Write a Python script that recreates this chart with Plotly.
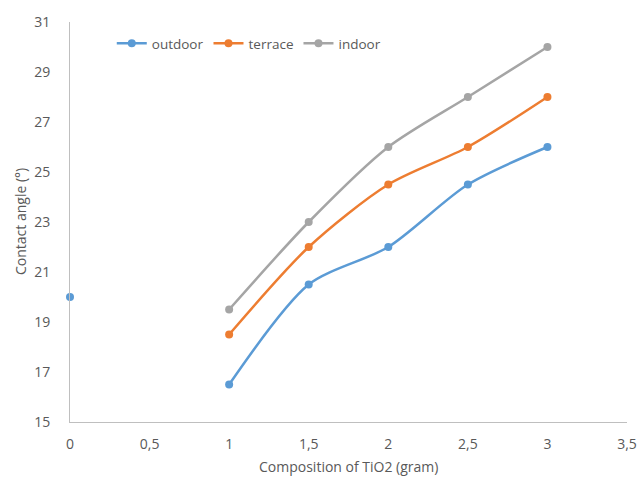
import plotly.graph_objects as go

x_outdoor = [0, 0.5, 1, 1.5, 2, 2.5, 3]
outdoor = [20, None, 16.5, 20.5, 22, 24.5, 26]
x_vals = [1, 1.5, 2, 2.5, 3]
terrace = [18.5, 22, 24.5, 26, 28]
indoor = [19.5, 23, 26, 28, 30]
x_ticks = [0, 0.5, 1, 1.5, 2, 2.5, 3, 3.5]
x_tick_labels = ["0", "0,5", "1", "1,5", "2", "2,5", "3", "3,5"]
y_ticks = [15, 17, 19, 21, 23, 25, 27, 29, 31]

fig = go.Figure()
series = [
    ("outdoor", x_outdoor, outdoor, "#5B9BD5"),
    ("terrace", x_vals, terrace, "#ED7D31"),
    ("indoor", x_vals, indoor, "#A5A5A5"),
]
for name, xs, ys, col in series:
    fig.add_trace(go.Scatter(
        x=xs, y=ys, name=name, mode="lines+markers",
        line=dict(color=col, width=2.5, shape="spline", smoothing=0.8),
        marker=dict(color=col, size=8),
        connectgaps=False, cliponaxis=False,
    ))

font_color = "#595959"
fig.update_layout(
    width=640, height=483,
    margin=dict(l=70, r=13, t=22, b=61),
    paper_bgcolor="white", plot_bgcolor="white",
    font=dict(family="Open Sans", size=14, color=font_color),
    showlegend=True,
    legend=dict(orientation="h", x=0.075, y=0.985, xanchor="left", yanchor="top",
                font=dict(size=13.5, color=font_color), bgcolor="rgba(0,0,0,0)",
                itemwidth=30, tracegroupgap=0),
    xaxis=dict(range=[0, 3.5], tickvals=x_ticks, ticktext=x_tick_labels,
               showgrid=False, zeroline=False, showline=True, linecolor="#BFBFBF",
               linewidth=1, ticks="", ticklen=0, ticklabelstandoff=9,
               automargin=False),
    yaxis=dict(range=[15, 31], tickvals=y_ticks, showgrid=False, zeroline=False,
               showline=True, linecolor="#BFBFBF", linewidth=1, ticks="",
               ticklabelstandoff=16, automargin=False),
    annotations=[
        dict(text="Composition of TiO2 (gram)", xref="paper", yref="paper",
             x=0.5, y=0, yshift=-44, xanchor="center", yanchor="middle",
             showarrow=False, font=dict(size=14, color=font_color)),
        dict(text="Contact angle (°)", xref="paper", yref="paper",
             x=0, y=0.5, xshift=-50, xanchor="center", yanchor="middle",
             textangle=-90, showarrow=False, font=dict(size=14, color=font_color)),
    ],
)
fig.write_html("out.html")
